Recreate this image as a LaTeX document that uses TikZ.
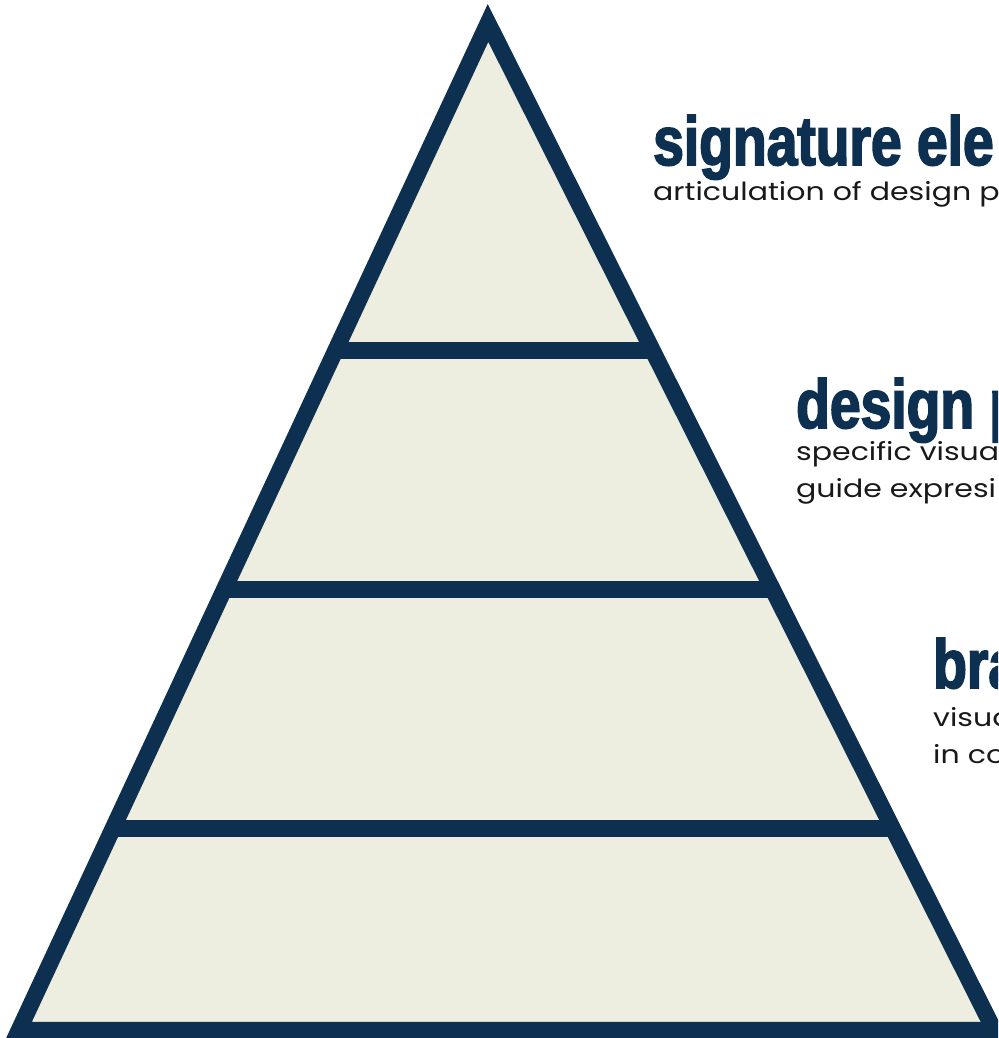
\documentclass[tikz,border=0pt]{standalone}
\usepackage{fontspec}
\usetikzlibrary{calc}
\newfontfamily\headfont[FakeStretch=0.8,FakeBold=2.5]{Liberation Sans Bold}
\newfontfamily\descfont[FakeStretch=1.2]{Poppins}
\definecolor{navy}{RGB}{13,48,80}
\definecolor{sand}{RGB}{237,237,224}

\begin{document}
\begin{tikzpicture}[x=1pt, y=-1pt,
  head/.style={anchor=base west, inner sep=0, text=navy, font=\headfont\fontsize{69}{69}\selectfont},
  desc/.style={anchor=base west, inner sep=0, align=left, text=black!90, font=\descfont\fontsize{25}{37}\selectfont}]
\useasboundingbox (0,0) rectangle (998,1038);
\clip (0,0) rectangle (998,1038);

\coordinate (top) at (488,23);
\coordinate (bl) at (19,1030);
\coordinate (br) at (994,1030);
\draw[navy, line width=16.5pt, line join=miter, fill=sand] (top) -- (bl) -- (br) -- cycle;
\foreach \t in {0.325,0.5625,0.8}
  \draw[navy, line width=16.5pt] ($(top)!\t!(bl)$) -- ($(top)!\t!(br)$);

\node[head] (sig) at (653,165) {signature ele};
\node[desc] (sigtext) at (653,200) {articulation of design p};
\node[head] (des) at (796,428) {design p};
\node[desc] (destext) at (796,497) {specific visua\\guide expresi};
\node[head] (bra) at (933,688) {bra};
\node[desc] (bratext) at (933,763) {visua\\in co};
\end{tikzpicture}
\end{document}
